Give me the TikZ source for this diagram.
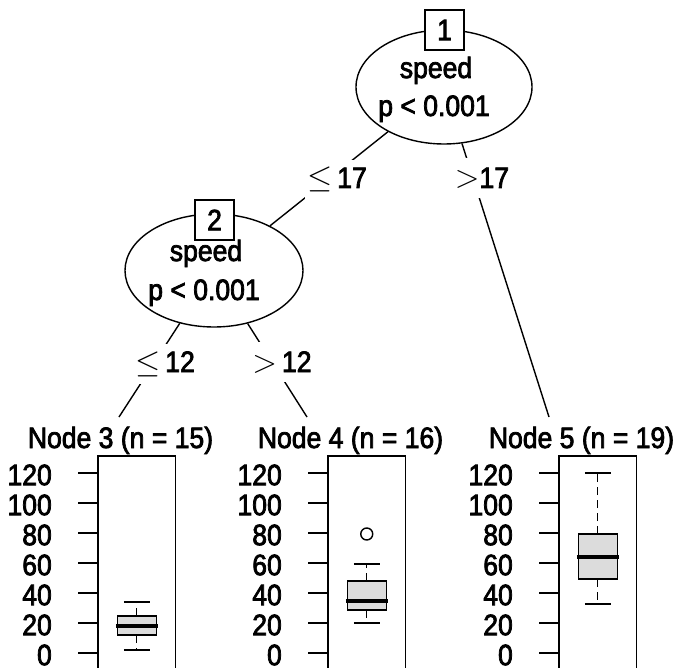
\documentclass[tikz,border=0pt]{standalone}
\usepackage{fontspec}
\usepackage{graphicx}
\setmainfont{Liberation Sans}[FakeStretch=0.9, FakeBold=2.5]
\usetikzlibrary{shapes.geometric}
\definecolor{boxfill}{HTML}{DCDCDC}
\newcommand{\myle}{\scalebox{1.3}{$\leq$}}
\newcommand{\mygt}{\scalebox{1.3}{$>$}}
\tikzset{
  lw/.style={line width=1.4pt},
  innernode/.style={draw, lw, ellipse, fill=white, inner sep=0pt, minimum width=176pt, minimum height=114pt},
  idbox/.style={draw, lw, fill=white, inner sep=0pt, minimum width=39pt, minimum height=40pt},
  txt/.style={anchor=base, inner sep=0pt},
  elab/.style={anchor=base, fill=white, inner xsep=2pt, inner ysep=0pt, minimum height=40pt},
  edgeline/.style={lw},
  panelbox/.style={draw, lw},
  tickmark/.style={line width=1.6pt},
  ticklab/.style={anchor=east, inner sep=0pt},
  whisk/.style={lw, dash pattern=on 8pt off 5pt},
  whiskcap/.style={lw},
  bxp/.style={lw, fill=boxfill},
  medline/.style={line width=3.6pt},
}
\begin{document}
\begin{tikzpicture}[x=1pt, y=-1pt, font=\fontsize{29.5}{34}\selectfont]
\useasboundingbox (0,0) rectangle (677,668);
\clip (0,0) rectangle (677,668);

% inner nodes
\node[innernode] (n1) at (444,87) {};
\node[innernode, minimum width=178pt, minimum height=113pt] (n2) at (214,270.5) {};

% terminal connection points
\coordinate (t3) at (119,417);
\coordinate (t4) at (307,417);
\coordinate (t5) at (549,417);

% edges
\draw[edgeline] (n1) -- (n2);
\draw[edgeline] (n1) -- (t5);
\draw[edgeline] (n2) -- (t3);
\draw[edgeline] (n2) -- (t4);

% edge labels
\node[elab] (e12) at (337,188) {\myle\,17};
\node[elab] (e15) at (482,188) {\mygt17};
\node[elab] (e23) at (165,372) {\myle\,12};
\node[elab] (e24) at (282,372) {\mygt\,12};

% inner node texts
\node[txt] (n1a) at (436,78) {speed};
\node[txt] (n1b) at (434,116) {p < 0.001};
\node[txt] (n2a) at (206,261) {speed};
\node[txt] (n2b) at (204,300) {p < 0.001};

% id boxes
\node[idbox] (b1) at (444.5,30) {1};
\node[idbox] (b2) at (214.5,220) {2};

% terminal panels
\foreach \L/\T/\q/\m/\Q/\lo/\hi [count=\i from 3] in
  {98/{Node 3 (n = 15)}/635/626/616/650/602,
   328/{Node 4 (n = 16)}/610/601/581/623/564,
   559/{Node 5 (n = 19)}/579/557/534/604/473}{
  \pgfmathsetmacro\cx{\L+38.75}
  \node[txt] (title\i) at (\L+22.5,448) {\T};
  \draw[panelbox] (\L,456) rectangle (\L+77.5,700);
  \foreach \v in {0,20,...,120}{
    \draw[tickmark] (\L-20,653-1.5*\v) -- (\L,653-1.5*\v);
    \node[ticklab] (tl\i-\v) at (\L-46,655-1.5*\v) {\v};
  }
  \draw[whisk] (\cx,\Q) -- (\cx,\hi);
  \draw[whisk] (\cx,\q) -- (\cx,\lo);
  \draw[whiskcap] (\cx-13,\hi) -- (\cx+13,\hi);
  \draw[whiskcap] (\cx-13,\lo) -- (\cx+13,\lo);
  \draw[bxp] (\cx-19.5,\Q) rectangle (\cx+19.5,\q);
  \draw[medline] (\cx-21,\m) -- (\cx+21,\m);
}
\draw[lw] (366.75,534) circle (6);
\end{tikzpicture}
\end{document}
